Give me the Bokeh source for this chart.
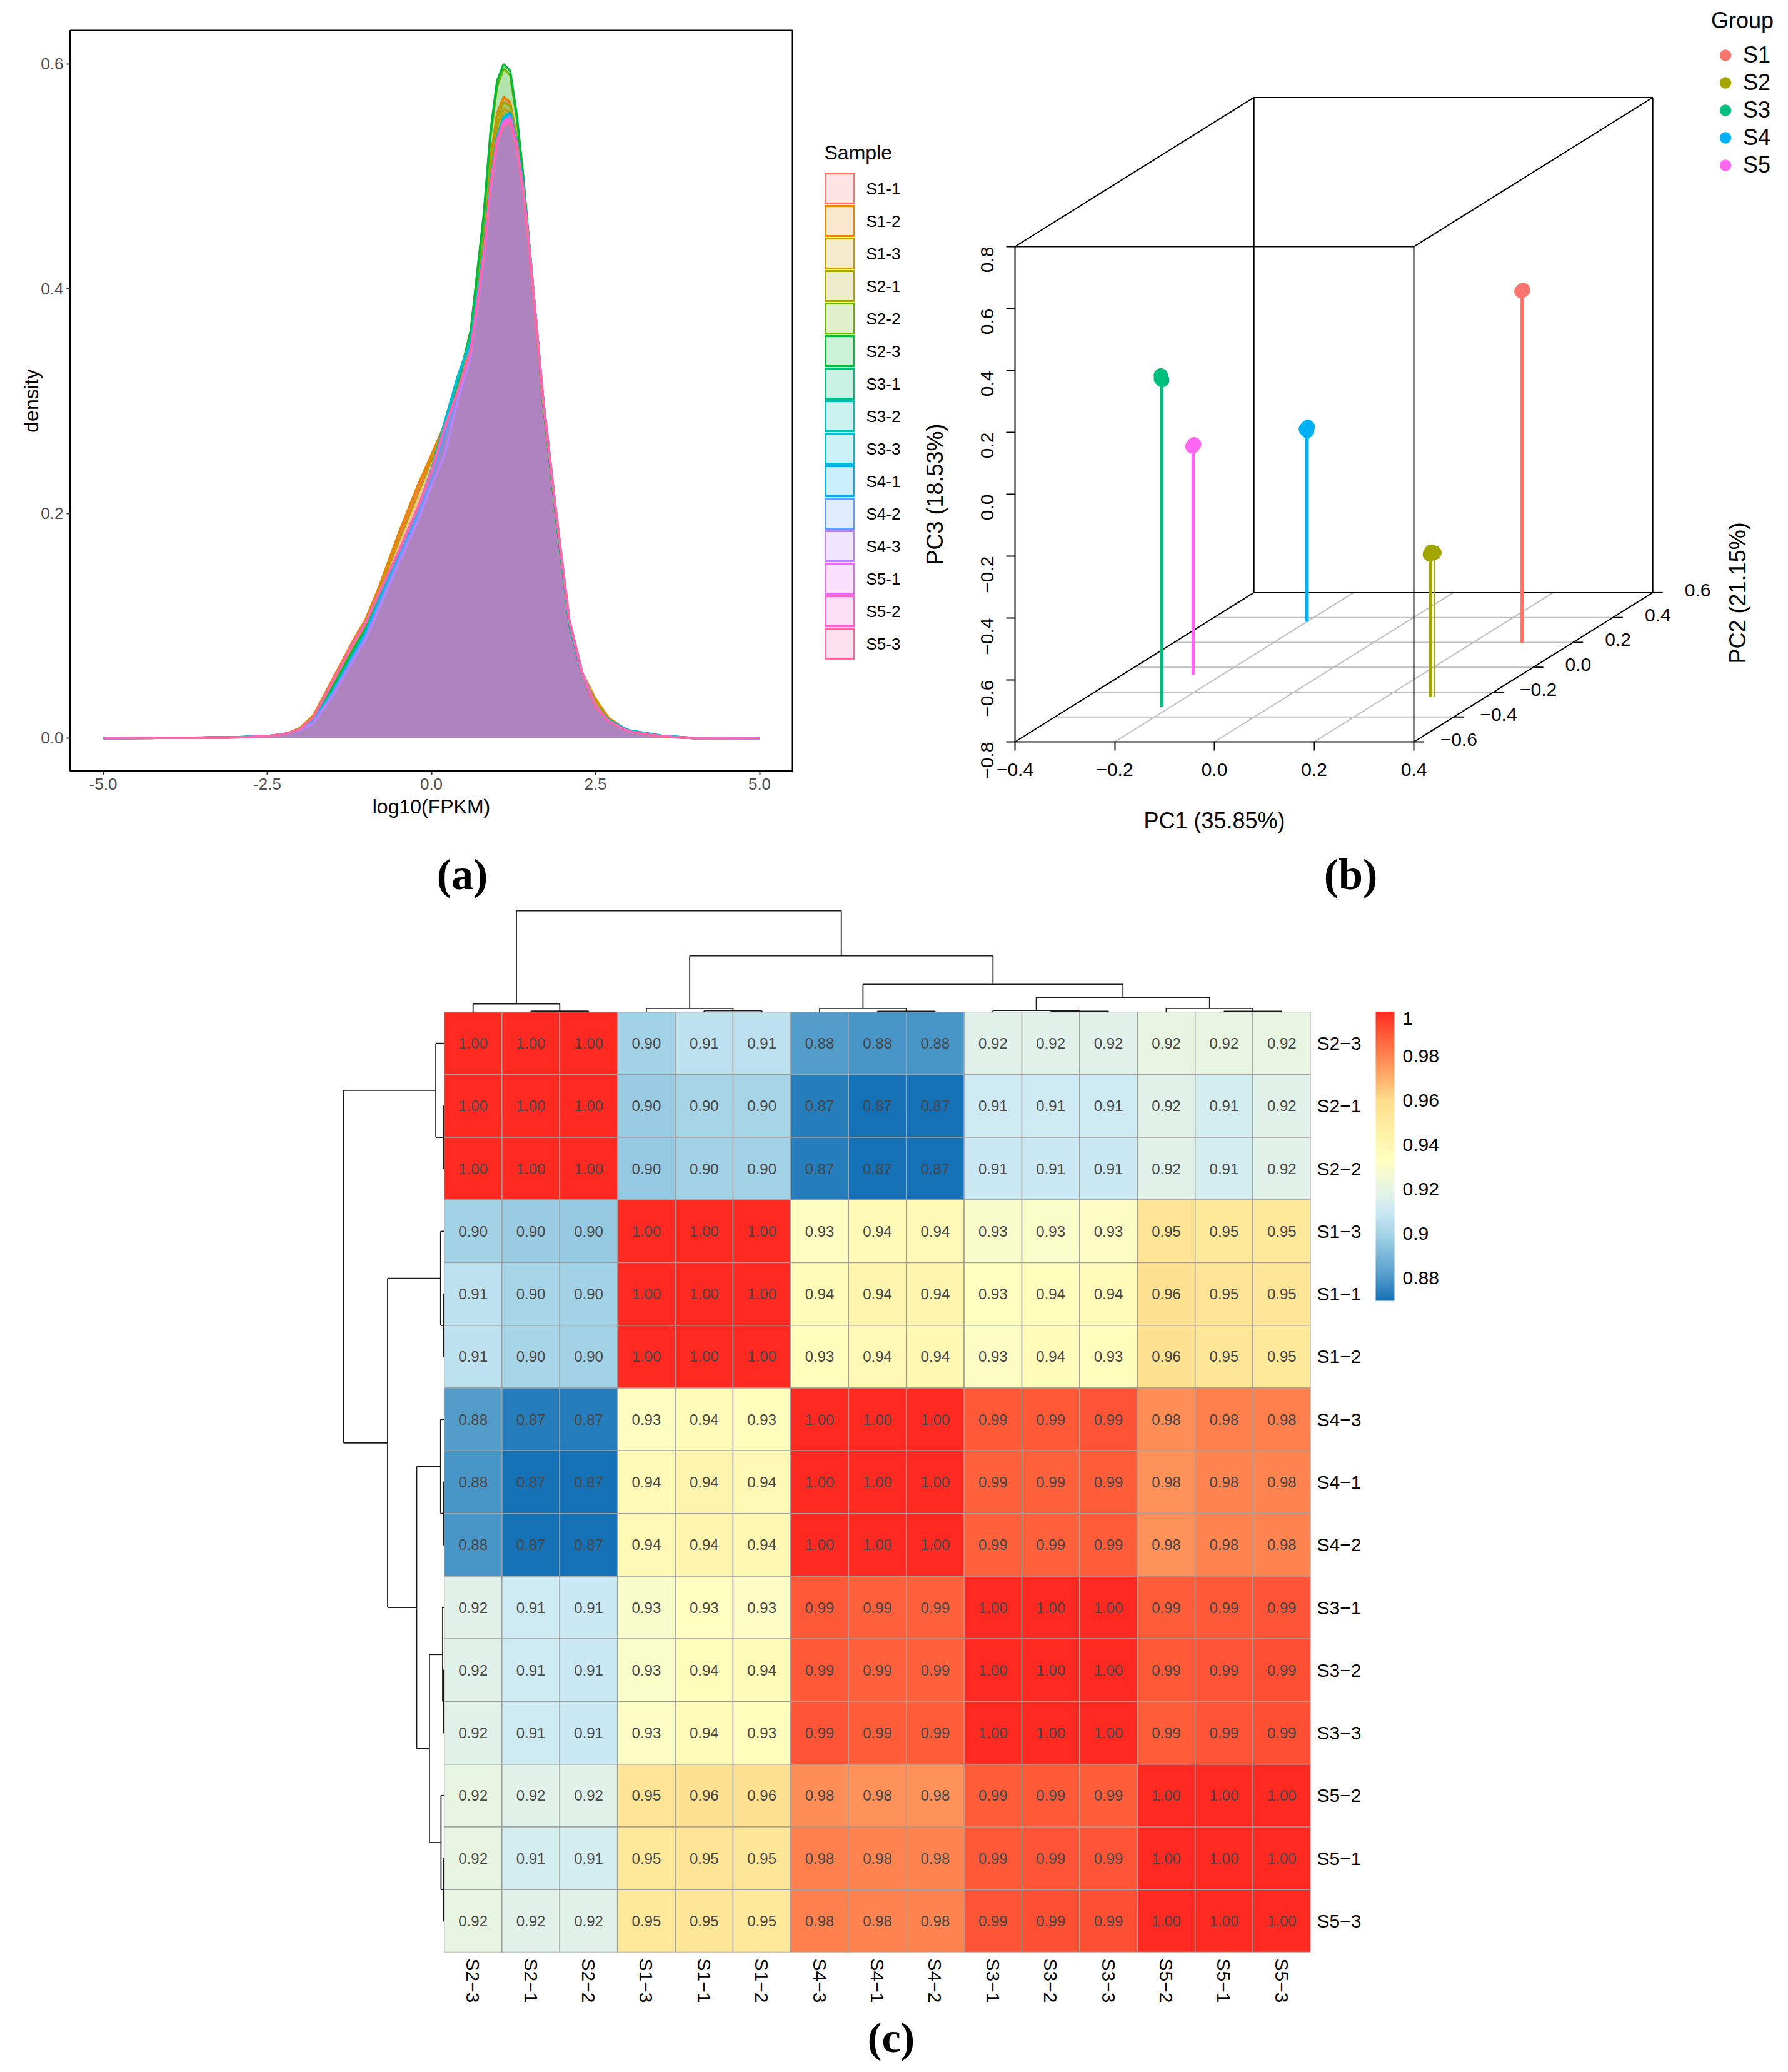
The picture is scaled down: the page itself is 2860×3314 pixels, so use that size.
import math
import numpy as np
from bokeh.core.properties import value
from bokeh.embed import file_html
from bokeh.layouts import column, row
from bokeh.models import (ColorBar, ColumnDataSource, FactorRange, FixedTicker, Legend,
                          LegendItem, LinearColorMapper, Range1d, Spacer)
from bokeh.plotting import figure
from bokeh.resources import INLINE

SANS = "Liberation Sans"
SERIF = "Liberation Serif"

# ---------------- panel (a) data
sample_names = ["S1-1", "S1-2", "S1-3", "S2-1", "S2-2", "S2-3", "S3-1", "S3-2", "S3-3",
                "S4-1", "S4-2", "S4-3", "S5-1", "S5-2", "S5-3"]
sample_colors = ["#F8766D", "#E58700", "#C99800", "#A3A500", "#6BB100", "#00BA38", "#00BF7D", "#00C0AF",
                 "#00BCD8", "#00B0F6", "#619CFF", "#B983FF", "#E76BF3", "#FD61D1", "#FF67A4"]
fill_alphas = [.2, .2, .2, .2, .2, .2, .2, .2, .2, .2, .2, .2, .2, .2, .25]
log_fpkm = [-5, -4, -3, -2.5, -2.2, -2, -1.8, -1.5, -1.2, -1, -.8, -.5, -.2, 0, .2, .4, .6, .8, .9, 1, 1.1, 1.2,
            1.3, 1.4, 1.5, 1.7, 1.9, 2.1, 2.3, 2.5, 2.7, 3, 3.5, 4, 5]
d_s1_1 = [0, .0002, .0007, .0016, .004, .009, .020, .052, .084, .105, .132, .178, .222, .250, .278, .315, .360, .450, .515, .555, .570, .565, .535, .490, .430, .300, .198, .104, .058, .034, .018, .006, .0012, 0, 0]
d_s1_2 = [0, .0002, .0007, .0016, .004, .009, .020, .053, .086, .106, .134, .182, .226, .252, .279, .316, .362, .452, .516, .556, .571, .566, .534, .489, .429, .299, .197, .104, .058, .035, .018, .006, .0012, 0, 0]
d_s1_3 = [0, .0002, .0007, .0016, .004, .009, .019, .050, .083, .104, .130, .175, .218, .247, .277, .313, .356, .444, .505, .545, .560, .557, .530, .488, .430, .301, .199, .105, .058, .033, .017, .006, .0012, 0, 0]
d_s2_1 = [0, .0002, .0007, .0015, .004, .008, .017, .046, .078, .098, .124, .165, .206, .236, .272, .312, .356, .447, .510, .552, .566, .563, .533, .490, .431, .301, .198, .103, .056, .029, .015, .006, .0016, 0, 0]
d_s2_2 = [0, .0002, .0007, .0015, .004, .008, .017, .046, .078, .098, .124, .165, .205, .235, .272, .314, .362, .465, .535, .580, .596, .590, .552, .498, .433, .300, .196, .102, .055, .028, .015, .006, .0017, 0, 0]
d_s2_3 = [0, .0002, .0007, .0015, .004, .008, .017, .045, .077, .097, .123, .164, .204, .234, .271, .314, .363, .468, .540, .585, .600, .594, .555, .500, .433, .299, .195, .101, .055, .028, .015, .006, .0017, 0, 0]
d_s3_1 = [0, .0002, .0008, .0018, .004, .007, .015, .042, .074, .094, .122, .162, .204, .238, .280, .321, .354, .436, .495, .535, .552, .556, .530, .490, .433, .303, .199, .103, .055, .029, .016, .007, .0022, .0002, 0]
d_s3_2 = [0, .0002, .0008, .0018, .004, .007, .015, .042, .074, .095, .123, .163, .205, .239, .281, .322, .355, .437, .496, .536, .553, .557, .531, .491, .433, .303, .199, .103, .055, .029, .016, .007, .0022, .0002, 0]
d_s3_3 = [0, .0002, .0008, .0018, .004, .007, .015, .042, .073, .094, .121, .161, .203, .237, .279, .320, .353, .435, .494, .534, .551, .555, .529, .489, .432, .302, .199, .103, .055, .029, .016, .007, .0021, .0002, 0]
d_s4_1 = [0, .0002, .0007, .0016, .004, .007, .014, .040, .072, .092, .120, .160, .200, .232, .270, .308, .344, .430, .490, .532, .550, .556, .530, .490, .433, .304, .201, .105, .058, .029, .015, .006, .0017, 0, 0]
d_s4_2 = [0, .0002, .0007, .0016, .004, .007, .014, .040, .071, .091, .119, .159, .199, .231, .268, .306, .342, .428, .488, .530, .549, .554, .529, .489, .433, .304, .201, .105, .058, .029, .015, .006, .0017, 0, 0]
d_s4_3 = [0, .0002, .0007, .0016, .004, .007, .013, .038, .068, .088, .115, .155, .194, .224, .252, .300, .340, .426, .486, .528, .546, .552, .528, .488, .432, .304, .201, .106, .058, .029, .015, .006, .0017, 0, 0]
d_s5_1 = [0, .0002, .0006, .0015, .004, .008, .018, .050, .084, .103, .129, .166, .206, .237, .276, .309, .346, .431, .491, .532, .547, .550, .527, .486, .430, .302, .200, .105, .056, .028, .015, .006, .0015, 0, 0]
d_s5_2 = [0, .0002, .0006, .0015, .004, .008, .018, .051, .084, .103, .129, .166, .206, .237, .276, .309, .346, .432, .492, .533, .549, .552, .528, .486, .430, .302, .200, .105, .056, .028, .015, .006, .0015, 0, 0]
d_s5_3 = [0, .0002, .0006, .0015, .004, .008, .018, .050, .083, .102, .128, .165, .205, .236, .275, .308, .345, .430, .490, .530, .545, .548, .525, .485, .430, .302, .200, .105, .056, .028, .015, .006, .0015, 0, 0]
densities = [d_s1_1, d_s1_2, d_s1_3, d_s2_1, d_s2_2, d_s2_3, d_s3_1, d_s3_2, d_s3_3, d_s4_1, d_s4_2, d_s4_3, d_s5_1, d_s5_2, d_s5_3]

# ---------------- panel (b) data
group_names = ["S1", "S2", "S3", "S4", "S5"]
group_colors = ["#F8766D", "#A3A500", "#00BF7D", "#00B0F6", "#FF67F0"]
pc1_vals = [[.300, .301, .299], [.287, .291, .296], [-.221, -.218, -.220], [-.203, -.198, -.201], [-.258, -.257, -.259]]
pc2_vals = [[.195, .197, .193], [-.237, -.240, -.236], [-.316, -.316, -.318], [.367, .365, .369], [-.060, -.058, -.062]]
pc3_vals = [[.339, .340, .337], [-.340, -.330, -.335], [.270, .255, .260], [-.178, -.170, -.185], [-.059, -.056, -.062]]
pc1_ticks = [-.4, -.2, 0, .2, .4]
pc2_ticks = [-.6, -.4, -.2, 0, .2, .4, .6]
pc3_ticks = [-.8, -.6, -.4, -.2, 0, .2, .4, .6, .8]

# ---------------- panel (c) data
heat_labels = ["S2−3", "S2−1", "S2−2", "S1−3", "S1−1", "S1−2", "S4−3", "S4−1", "S4−2",
               "S3−1", "S3−2", "S3−3", "S5−2", "S5−1", "S5−3"]
heat_rows = [
    [1.0, 1.0, 1.0, .899, .906, .906, .881, .879, .879, .917, .917, .917, .921, .921, .921],
    [1.0, 1.0, 1.0, .897, .900, .900, .873, .870, .870, .911, .911, .911, .917, .913, .917],
    [1.0, 1.0, 1.0, .896, .899, .899, .873, .870, .870, .910, .910, .910, .917, .913, .917],
    [.899, .897, .896, 1.0, 1.0, 1.0, .932, .937, .938, .929, .930, .931, .954, .952, .952],
    [.906, .900, .899, 1.0, 1.0, 1.0, .936, .941, .941, .933, .935, .936, .956, .954, .953],
    [.906, .900, .899, 1.0, 1.0, 1.0, .934, .938, .939, .931, .936, .934, .956, .953, .952],
    [.881, .873, .873, .932, .936, .934, 1.0, 1.0, 1.0, .990, .990, .991, .978, .981, .981],
    [.879, .870, .870, .937, .941, .938, 1.0, 1.0, 1.0, .988, .988, .989, .977, .980, .980],
    [.879, .870, .870, .938, .941, .939, 1.0, 1.0, 1.0, .988, .988, .989, .977, .980, .980],
    [.917, .911, .910, .929, .933, .931, .990, .988, .988, 1.0, 1.0, 1.0, .989, .990, .991],
    [.917, .911, .910, .930, .935, .936, .990, .988, .988, 1.0, 1.0, 1.0, .990, .991, .992],
    [.917, .911, .910, .931, .936, .934, .991, .989, .989, 1.0, 1.0, 1.0, .989, .991, .992],
    [.921, .917, .917, .954, .956, .956, .978, .977, .977, .989, .990, .989, 1.0, 1.0, 1.0],
    [.921, .913, .913, .952, .954, .953, .981, .980, .980, .990, .991, .991, 1.0, 1.0, 1.0],
    [.921, .917, .917, .952, .953, .952, .981, .980, .980, .991, .992, .992, 1.0, 1.0, 1.0],
]
# dendrograms: (height, left, right); leaves are positions in the ordered labels
col_tree = (162, (12.8, 0, (1.3, 1, 2)),
            (90, (5.7, 3, (1.9, 4, 5)),
             (44, (5.7, 6, (1.0, 7, 8)),
              (23.5, (2.5, 9, (1.0, 10, 11)), (5.7, 12, (1.0, 13, 14))))))
row_tree = (161, (13.4, 0, (1.3, 1, 2)),
            (90.5, (5.7, 3, (1.3, 4, 5)),
             (44, (5.7, 6, (1.3, 7, 8)),
              (23.6, (2.5, 9, (1.3, 10, 11)), (5.1, 12, (1.3, 13, 14))))))
bar_ticks = [.88, .90, .92, .94, .96, .98, 1.0]
bar_tick_text = {.88: "0.88", .90: "0.9", .92: "0.92", .94: "0.94", .96: "0.96", .98: "0.98", 1.0: "1"}


def bare(**kw):
    p = figure(output_backend="svg", toolbar_location=None, frame_align=False, **kw)
    p.outline_line_color = None
    p.grid.visible = False
    return p


def tag_strip(width, height, text, x, y, size="70px"):
    s = bare(width=width, height=height, x_range=Range1d(0, width), y_range=Range1d(height, 0), x_axis_type=None,
             y_axis_type=None, min_border=0)
    s.text(x=[x], y=[y], text=[text], text_font=value(SERIF), text_font_style="bold", text_font_size=size,
           text_align="center", text_baseline="middle", text_color="#000000")
    return s


# ================ (a) density
pa = figure(output_backend="svg", toolbar_location=None, frame_align=False, width=1292, height=1353,
            x_range=Range1d(-5.5, 5.5), y_range=Range1d(-.0295, .63),
            min_border_left=104, min_border_right=33, min_border_top=40, min_border_bottom=128)
pa.grid.visible = False
pa.outline_line_color = "#000000"
pa.outline_line_width = 2
for name, col, alpha, dens in zip(sample_names, sample_colors, fill_alphas, densities):
    pa.varea(x=log_fpkm, y1=[0] * len(dens), y2=dens, fill_color=col, fill_alpha=alpha)
for name, col, dens in zip(sample_names, sample_colors, densities):
    pa.line(x=log_fpkm, y=dens, line_color=col, line_width=3.5)
pa.xaxis.ticker = FixedTicker(ticks=[-5, -2.5, 0, 2.5, 5])
pa.xaxis.major_label_overrides = {-5: "-5.0", -2.5: "-2.5", 0: "0.0", 2.5: "2.5", 5: "5.0"}
pa.yaxis.ticker = FixedTicker(ticks=[0, .2, .4, .6])
pa.yaxis.major_label_overrides = {0: "0.0", .2: "0.2", .4: "0.4", .6: "0.6"}
pa.xaxis.axis_label = "log10(FPKM)"
pa.yaxis.axis_label = "density"
for ax in (pa.xaxis[0], pa.yaxis[0]):
    ax.axis_line_color = "#000000"
    ax.axis_line_width = 3
    ax.major_tick_line_color = "#333333"
    ax.major_tick_line_width = 2
    ax.major_tick_in = 0
    ax.major_tick_out = 6
    ax.minor_tick_line_color = None
    ax.major_label_text_font = SANS
    ax.major_label_text_font_size = "26px"
    ax.major_label_text_color = "#4D4D4D"
    ax.major_label_standoff = 5
    ax.axis_label_text_font = SANS
    ax.axis_label_text_font_size = "32px"
    ax.axis_label_text_font_style = "normal"
    ax.axis_label_text_color = "#000000"
    ax.axis_label_standoff = 6
pa.yaxis.axis_label_standoff = -6

# legend of (a)
la = bare(width=150, height=1353, x_range=Range1d(0, 150),
          y_range=FactorRange(factors=sample_names[::-1] + ["Sample"]),
          x_axis_type=None, y_axis_type=None, min_border_left=0, min_border_right=0,
          min_border_top=215, min_border_bottom=306)
src_leg = ColumnDataSource(dict(s=sample_names, c=sample_colors, x=[43] * 15, tx=[85] * 15))
la.rect(x="x", y="s", width=46, height=48, width_units="screen", height_units="screen", source=src_leg,
        fill_color="c", fill_alpha=.2, line_color="c", line_width=3)
la.text(x="tx", y="s", text="s", source=src_leg, text_font=value(SANS), text_font_size="26px",
        text_baseline="middle", text_color="#000000")
la.text(x=[18], y=["Sample"], text=["Sample"], y_offset=-6, text_font=value(SANS), text_font_size="32px",
        text_baseline="middle", text_color="#000000")

# ================ (b) 3D scatter, oblique projection of PC1/PC2/PC3
KX, KY = .3994, .4017
PX, PY = 797.5, 495


def sx(pc1, pc2):
    return pc1 + (pc2 + .6) * KX


def sy(pc2, pc3):
    return pc3 + (pc2 + .6) * KY


pb = figure(output_backend="svg", toolbar_location=None, frame_align=False, width=1402, height=1437,
            x_range=Range1d(-.4 - 173 / PX, -.4 + 1229 / PX), y_range=Range1d(-.8 - 259 / PY, -.8 + 1178 / PY),
            min_border=0)
pb.grid.visible = False
pb.outline_line_color = None
# floor grid
for t in pc1_ticks[1:-1]:
    pb.line([sx(t, -.6), sx(t, .6)], [sy(-.6, -.8), sy(.6, -.8)], line_color="#BEBEBE", line_width=2)
for t in pc2_ticks[1:-1]:
    pb.line([sx(-.4, t), sx(.4, t)], [sy(t, -.8), sy(t, -.8)], line_color="#BEBEBE", line_width=2)
# box
corners = [(-.4, -.6), (.4, -.6), (.4, .6), (-.4, .6)]
for c1, c2 in corners:
    pb.line([sx(c1, c2), sx(c1, c2)], [sy(c2, -.8), sy(c2, .8)], line_color="#000000", line_width=2)
for lev in (-.8, .8):
    pb.line([sx(c1, c2) for c1, c2 in corners + corners[:1]], [sy(c2, lev) for c1, c2 in corners + corners[:1]],
            line_color="#000000", line_width=2)
# PC2 ticks and their labels
for t in pc2_ticks:
    pb.line([sx(.4, t), sx(.4, t) + .02], [sy(t, -.8), sy(t, -.8)], line_color="#000000", line_width=2)
pb.text(x=[sx(.4, t) + .09 for t in pc2_ticks], y=[sy(t, -.8) + .008 for t in pc2_ticks],
        text=[f"{t:.1f}".replace("-", "−") for t in pc2_ticks], text_font=value(SANS), text_font_size="30px",
        text_align="center", text_baseline="middle", text_color="#000000")
# stems and points
leg_items = []
for g, col, a, b, c in zip(group_names, group_colors, pc1_vals, pc2_vals, pc3_vals):
    for i in range(3):
        x0 = sx(a[i], b[i])
        pb.line([x0, x0], [sy(b[i], -.8), sy(b[i], c[i])], line_color=col, line_width=3)
    r = pb.scatter(x=[sx(u, v) for u, v in zip(a, b)], y=[sy(v, w) for v, w in zip(b, c)],
                   size=22, color=col)
    leg_items.append(LegendItem(label=g, renderers=[r]))
leg = Legend(items=leg_items, title="Group", location=(1287, 1159), glyph_width=45, glyph_height=44, spacing=0,
             padding=0, margin=0, background_fill_alpha=0, border_line_color=None, label_text_font=SANS,
             label_text_font_size="36px", label_text_color="#000000", title_text_font=SANS,
             title_text_font_size="36px", title_text_color="#000000",
             title_text_font_style="normal", title_standoff=12, label_standoff=6)
pb.add_layout(leg, "center")
pb.xaxis.ticker = FixedTicker(ticks=pc1_ticks)
pb.xaxis.major_label_overrides = {t: f"{t:.1f}".replace("-", "−") for t in pc1_ticks}
pb.xaxis.fixed_location = -.8
pb.yaxis.ticker = FixedTicker(ticks=pc3_ticks)
pb.yaxis.major_label_overrides = {t: f"{t:.1f}".replace("-", "−") for t in pc3_ticks}
pb.yaxis.major_label_orientation = math.pi / 2
pb.yaxis.fixed_location = -.4
for ax in (pb.xaxis[0], pb.yaxis[0]):
    ax.axis_line_color = None
    ax.major_tick_line_color = "#000000"
    ax.major_tick_line_width = 2
    ax.major_tick_in = 0
    ax.major_tick_out = 14
    ax.minor_tick_line_color = None
    ax.major_label_text_font = SANS
    ax.major_label_text_font_size = "30px"
    ax.major_label_text_color = "#000000"
pb.xaxis.major_label_standoff = 20
pb.yaxis.major_label_standoff = 31


def blabel(text, x, y, angle=0):
    pb.text(x=[x], y=[y], text=[text], angle=angle, text_font=value(SANS), text_font_size="36px",
            text_align="center", text_baseline="middle", text_color="#000000")


blabel("PC1 (35.85%)", 0, -1.055)
blabel("PC3 (18.53%)", -.56, 0, math.pi / 2)
blabel("PC2 (21.15%)", 1.05, -.319, math.pi / 2)
pb.text(x=[-.4 + 537 / PX], y=[-.8 - 212 / PY], text=["(b)"], text_font=value(SERIF), text_font_style="bold",
        text_font_size="70px", text_align="center", text_baseline="middle", text_color="#000000")


# ================ (c) heatmap
def tree_segments(node):
    if not isinstance(node, tuple):
        return [], node + .5, 0
    h, a, b = node
    sa, pa_, ha = tree_segments(a)
    sb, pb_, hb = tree_segments(b)
    segs = sa + sb + [(pa_, ha, pa_, h), (pa_, h, pb_, h), (pb_, h, pb_, hb)]
    return segs, (pa_ + pb_) / 2, h


col_segs = tree_segments(col_tree)[0]
row_segs = tree_segments(row_tree)[0]

top = bare(width=1386, height=173, x_range=Range1d(0, 15), y_range=Range1d(0, 173), x_axis_type=None,
           y_axis_type=None, min_border=0)
top.segment(x0=[s[0] for s in col_segs], y0=[s[1] for s in col_segs], x1=[s[2] for s in col_segs],
            y1=[s[3] for s in col_segs], line_color="#1A1A1A", line_width=1.8)

left = bare(width=702, height=1610, x_range=Range1d(702, 0), y_range=Range1d(15, 0), x_axis_type=None,
            y_axis_type=None, min_border_left=0, min_border_right=0, min_border_top=0, min_border_bottom=106)
left.segment(x0=[s[1] for s in row_segs], y0=[s[0] for s in row_segs], x1=[s[3] for s in row_segs],
             y1=[s[2] for s in row_segs], line_color="#1A1A1A", line_width=1.8)

stop_vals = [.8696, .88, .90, .91, .918, .933, .945, .96, .98, .99, 1.0]
stop_cols = ["#1571B6", "#4F9ACA", "#A8D6E8", "#CBE9F4", "#E3F3E8", "#FFFFBF", "#FEF2A8", "#FEDC8A", "#FF8450",
             "#FF5A38", "#FE2A22"]
grid_v = np.linspace(.8696, 1.0, 256)
rgb = [[int(c[i:i + 2], 16) for i in (1, 3, 5)] for c in stop_cols]
palette = ["#%02X%02X%02X" % tuple(int(round(np.interp(v, stop_vals, [q[k] for q in rgb]))) for k in range(3))
           for v in grid_v]
mapper = LinearColorMapper(palette=palette, low=.8696, high=1.0)

heat = figure(output_backend="svg", toolbar_location=None, frame_align=False, width=2142, height=1610,
              x_range=FactorRange(factors=heat_labels), y_range=FactorRange(factors=heat_labels[::-1]),
              y_axis_location="right", min_border_left=0, min_border_right=756, min_border_top=0,
              min_border_bottom=106)
heat.grid.visible = False
heat.outline_line_color = None
xs, ys, vs, ts = [], [], [], []
for rn, vals in zip(heat_labels, heat_rows):
    for cn, v in zip(heat_labels, vals):
        xs.append(cn); ys.append(rn); vs.append(v); ts.append(f"{v:.2f}")
src = ColumnDataSource(dict(x=xs, y=ys, v=vs, t=ts))
heat.rect(x="x", y="y", width=1, height=1, source=src, fill_color={"field": "v", "transform": mapper},
          line_color="#A0A0A0", line_width=1.5)
heat.text(x="x", y="y", text="t", source=src, text_font=value(SANS), text_font_size="24px", text_align="center",
          text_baseline="middle", text_color="#474747")
for ax in (heat.xaxis[0], heat.yaxis[0]):
    ax.axis_line_color = None
    ax.major_tick_line_color = None
    ax.minor_tick_line_color = None
    ax.major_tick_in = 0
    ax.major_tick_out = 0
    ax.major_label_text_font = SANS
    ax.major_label_text_font_size = "30px"
    ax.major_label_text_color = "#000000"
    ax.major_label_standoff = 10
heat.xaxis.major_label_orientation = -math.pi / 2
cb = ColorBar(color_mapper=mapper, width=30, height=463, location=(1490, 1042), padding=0, margin=0,
              bar_line_color=None, border_line_color=None, background_fill_alpha=0,
              major_tick_line_color=None, minor_tick_line_color=None,
              ticker=FixedTicker(ticks=bar_ticks), major_label_overrides=bar_tick_text,
              major_label_text_font=SANS, major_label_text_font_size="30px", major_label_text_color="#000000",
              label_standoff=13)
heat.add_layout(cb, "center")

strip_a = tag_strip(1442, 84, "(a)", 731, 37)
strip_c = tag_strip(2844, 84, "(c)", 1417, 30, "68px")

page = column(Spacer(width=10, height=8),
              row(Spacer(width=8, height=10),
                  column(row(column(row(pa, la, spacing=0), strip_a, spacing=0), pb, spacing=0),
                         row(Spacer(width=702, height=173), top, spacing=0),
                         row(left, heat, spacing=0), strip_c, spacing=0), spacing=0), spacing=0)
open("out.html", "w").write(file_html(page, INLINE))
